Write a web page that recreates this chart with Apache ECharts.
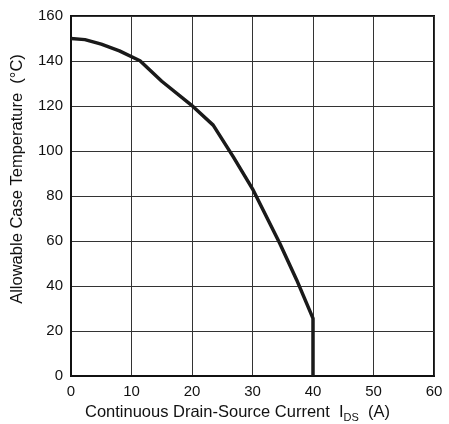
<!DOCTYPE html>
<html><head><meta charset="utf-8">
<script src="https://cdn.jsdelivr.net/npm/echarts@6/dist/echarts.min.js"></script>
<style>html,body{margin:0;padding:0;background:#fff}#c{width:449px;height:424px}</style>
</head><body><div id="c"></div>
<script>
const currentA = [0, 2.3, 5, 8, 11.4, 15, 20.2, 23.5, 26.8, 30.1, 34.5, 37.3, 40, 40];
const tempC = [150, 149.5, 147.5, 144.5, 140.1, 131, 119.7, 111.5, 97.5, 82.7, 59, 42.7, 25.6, 0];
const xTicks = [0, 10, 20, 30, 40, 50, 60];
const yTicks = [0, 20, 40, 60, 80, 100, 120, 140, 160];
const font = 'Liberation Sans, Arial, Helvetica, sans-serif';
const chart = echarts.init(document.getElementById('c'));
chart.setOption({
  animation: false,
  grid: {left: 71, right: 15, top: 16, bottom: 48, containLabel: false, outerBoundsMode: 'none',
         show: true, borderColor: '#111', borderWidth: 2, backgroundColor: '#fff'},
  xAxis: {
    type: 'value', min: xTicks[0], max: xTicks[xTicks.length-1], interval: 10,
    axisLine: {show: true, lineStyle: {color: '#111', width: 2}},
    axisTick: {show: false},
    splitLine: {show: true, lineStyle: {color: '#333', width: 1}},
    axisLabel: {color: '#111', fontSize: 15, fontFamily: font, margin: 8},
    name: '{a|Continuous Drain-Source Current  I}{s|DS}{a|  (A)}',
    nameLocation: 'middle', nameGap: 25,
    nameTextStyle: {padding: [0, 30, 0, 0], rich: {
      a: {fontSize: 16.5, fontFamily: font, color: '#111', verticalAlign: 'top', lineHeight: 18},
      s: {fontSize: 11, fontFamily: font, color: '#111', verticalAlign: 'top', lineHeight: 18, padding: [9, 0, 0, 0]}
    }}
  },
  yAxis: {
    type: 'value', min: yTicks[0], max: yTicks[yTicks.length-1], interval: 20,
    axisLine: {show: true, lineStyle: {color: '#111', width: 2}},
    axisTick: {show: false},
    splitLine: {show: true, lineStyle: {color: '#333', width: 1}},
    axisLabel: {color: '#111', fontSize: 15, fontFamily: font, margin: 8},
    name: 'Allowable Case Temperature  (°C)',
    nameLocation: 'middle', nameGap: 45, nameRotate: 90,
    nameTextStyle: {fontSize: 16.5, fontFamily: font, color: '#111', padding: [0, 0, 0, 34]}
  },
  series: [{
    type: 'line', data: currentA.map((x, i) => [x, tempC[i]]),
    showSymbol: false, smooth: false,
    lineStyle: {color: '#1a1a1a', width: 3.5}
  }]
});
</script></body></html>
